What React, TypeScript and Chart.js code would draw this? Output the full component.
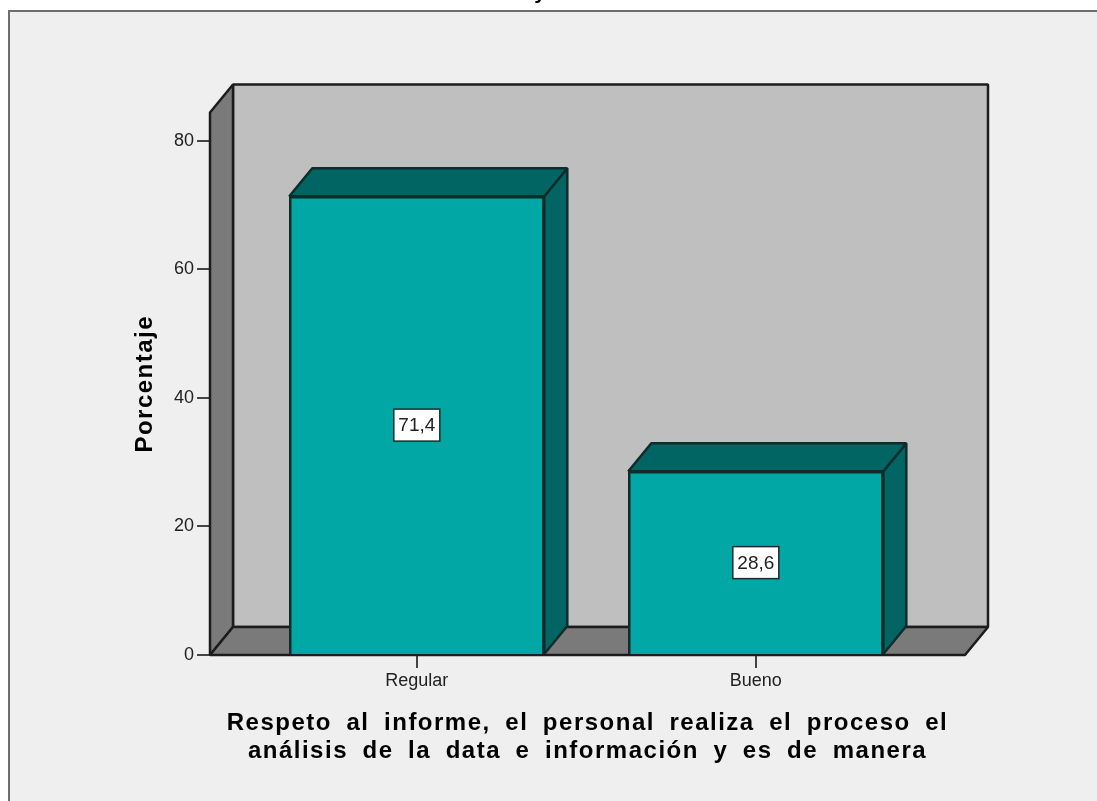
import React, { useEffect, useRef } from "react";
import { Chart, registerables } from "chart.js";

Chart.register(...registerables);

const categories = ["Regular", "Bueno"];
const percentages = [71.4, 28.6];
const yTicks = [0, 20, 40, 60, 80];
const yMax = 84.43;
const xRange = [-0.61, 1.617];
const yTitle = "Porcentaje";
const xTitle = [
  "Respeto al informe, el personal realiza el proceso el",
  "análisis de la data e información y es de manera",
];
const clippedTitleFragment = "y";

const FONT = '"Liberation Sans", Arial, sans-serif';
const DX = 23;
const DY = 28;
const LINE = "#1c1c1c";
const WALL = "#bfbfbf";
const SIDE = "#7a7a7a";
const BAR = "#00a7a5";
const BAR_DARK = "#006563";
const BAR_EDGE = "#0f2b2a";

function poly(ctx: any, pts: number[][], fill: string, stroke: string, lw = 2.5) {
  ctx.beginPath();
  pts.forEach((p, i) => (i ? ctx.lineTo(p[0], p[1]) : ctx.moveTo(p[0], p[1])));
  ctx.closePath();
  ctx.fillStyle = fill;
  ctx.fill();
  ctx.strokeStyle = stroke;
  ctx.lineWidth = lw;
  ctx.lineJoin = "bevel";
  ctx.stroke();
}

const spssPlugin = {
  id: "spss3d",
  beforeDraw(chart: any) {
    const ctx = chart.ctx;
    const W = chart.width;
    const H = chart.height;
    ctx.save();
    ctx.fillStyle = "#ffffff";
    ctx.fillRect(0, 0, W, H);
    ctx.fillStyle = "#efefef";
    ctx.fillRect(9, 11, W - 9, H - 11);
    ctx.strokeStyle = "#6e6e6e";
    ctx.lineWidth = 2;
    ctx.beginPath();
    ctx.moveTo(9, H);
    ctx.lineTo(9, 11);
    ctx.lineTo(W, 11);
    ctx.stroke();
    ctx.fillStyle = "#000";
    ctx.font = `bold 21px ${FONT}`;
    ctx.textAlign = "center";
    ctx.textBaseline = "alphabetic";
    ctx.fillText(clippedTitleFragment, 540, -1);
    ctx.restore();
    ctx.letterSpacing = "1.5px";
    ctx.wordSpacing = "6.4px";
  },
  beforeDatasetsDraw(chart: any) {
    const ctx = chart.ctx;
    const { left: l, right: r, top: t, bottom: b } = chart.chartArea;
    ctx.save();
    poly(ctx, [[l + DX, t - DY], [r + DX, t - DY], [r + DX, b - DY], [l + DX, b - DY]], WALL, LINE);
    poly(ctx, [[l, t], [l + DX, t - DY], [l + DX, b - DY], [l, b]], SIDE, LINE);
    poly(ctx, [[l, b], [l + DX, b - DY], [r + DX, b - DY], [r, b]], SIDE, LINE);
    chart.getDatasetMeta(0).data.forEach((el: any) => {
      const p = el.getProps(["x", "y", "base", "width"], true);
      const x0 = p.x - p.width / 2;
      const x1 = p.x + p.width / 2;
      poly(ctx, [[x1, p.y], [x1 + DX, p.y - DY], [x1 + DX, p.base - DY], [x1, p.base]], BAR_DARK, BAR_EDGE);
      poly(ctx, [[x0, p.y], [x0 + DX, p.y - DY], [x1 + DX, p.y - DY], [x1, p.y]], BAR_DARK, BAR_EDGE);
    });
    ctx.restore();
  },
  afterDatasetsDraw(chart: any) {
    const ctx = chart.ctx;
    ctx.letterSpacing = "0px";
    ctx.wordSpacing = "0px";
    ctx.save();
    chart.getDatasetMeta(0).data.forEach((el: any, i: number) => {
      const p = el.getProps(["x", "y", "base"], true);
      const cy = (p.y + p.base) / 2;
      const bw = 46;
      const bh = 32;
      ctx.fillStyle = "#ffffff";
      ctx.strokeStyle = "#1c2c2c";
      ctx.lineWidth = 1.5;
      ctx.fillRect(p.x - bw / 2, cy - bh / 2, bw, bh);
      ctx.strokeRect(p.x - bw / 2, cy - bh / 2, bw, bh);
      ctx.fillStyle = "#222222";
      ctx.font = `19px ${FONT}`;
      ctx.textAlign = "center";
      ctx.textBaseline = "middle";
      ctx.fillText(String(percentages[i]).replace(".", ","), p.x, cy + 1);
    });
    ctx.restore();
  },
};

export default function App() {
  const ref = useRef<HTMLCanvasElement | null>(null);
  useEffect(() => {
    const chart = new Chart(ref.current as any, {
      type: "bar",
      data: {
        datasets: [
          {
            label: yTitle,
            data: categories.map((_, i) => ({ x: i, y: percentages[i] })),
            backgroundColor: BAR,
            borderColor: BAR_EDGE,
            borderWidth: 2.5,
            barThickness: 255,
          },
        ],
      },
      options: {
        animation: false,
        responsive: false,
        devicePixelRatio: 1,
        layout: { padding: { left: 0, top: 112.5, right: 132, bottom: 0 } },
        plugins: { legend: { display: false }, tooltip: { enabled: false } },
        scales: {
          x: {
            type: "linear",
            offset: false,
            min: xRange[0],
            max: xRange[1],
            afterBuildTicks: (s: any) => {
              s.ticks = categories.map((_, i) => ({ value: i }));
            },
            afterFit: (s: any) => {
              s.height = 146;
            },
            grid: { offset: false, drawOnChartArea: false, drawTicks: true, tickLength: 13, lineWidth: 2, color: "#444444", z: -1 },
            border: { display: false },
            ticks: {
              z: 1,
              autoSkip: false,
              maxRotation: 0,
              padding: 2,
              color: "#222222",
              font: { family: FONT, size: 18 },
              callback: (v: any) => categories[v],
            },
            title: {
              display: true,
              text: xTitle,
              color: "#000000",
              font: { family: FONT, size: 24, weight: "bold", lineHeight: 1.17 },
              padding: { top: 0, bottom: 36 },
            },
          },
          y: {
            min: 0,
            max: yMax,
            afterBuildTicks: (s: any) => {
              s.ticks = yTicks.map((value) => ({ value }));
            },
            afterFit: (s: any) => {
              s.width = 210;
            },
            grid: { drawOnChartArea: false, drawTicks: true, tickLength: 13, lineWidth: 2, color: "#444444", z: -1 },
            border: { display: false },
            ticks: {
              z: 1,
              padding: 3,
              color: "#222222",
              font: { family: FONT, size: 18 },
            },
            title: {
              display: true,
              text: yTitle,
              color: "#000000",
              font: { family: FONT, size: 24, weight: "bold" },
              padding: { top: 131, bottom: 0 },
            },
          },
        },
      },
      plugins: [spssPlugin],
    } as any);
    return () => chart.destroy();
  }, []);
  return (
    <div style={{ position: "fixed", left: 0, top: 0, width: 1097, height: 801 }}>
      <canvas ref={ref} width={1097} height={801} style={{ display: "block" }} />
    </div>
  );
}
